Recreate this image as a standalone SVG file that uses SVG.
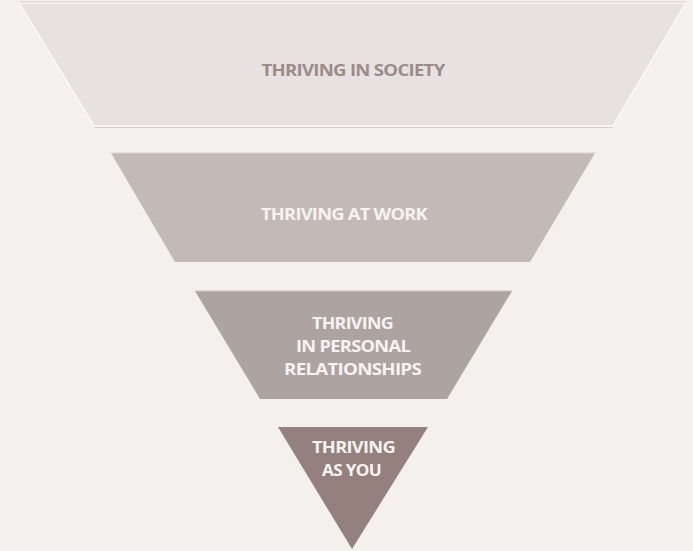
<svg xmlns="http://www.w3.org/2000/svg" width="693" height="551" viewBox="0 0 693 551">
  <style>
    .lbl { font-family: "Open Sans", "Noto Sans", "Liberation Sans", sans-serif; font-weight: 700; font-size: 15.5px; letter-spacing: -0.6px; text-anchor: middle; }
    .dark { fill: #9c8b88; }
    .light { fill: #f7f3f1; }
  </style>
  <rect width="693" height="551" fill="#f3f0ed"/>

  <!-- Tier 1: society -->
  <g id="tier-society">
    <polygon points="19,3 686,3 613,126 94,126" fill="#e7e2e1" stroke="#fbf9f8" stroke-width="1.6"/>
    <line x1="19" y1="2" x2="686" y2="2" stroke="#d5cecb" stroke-width="1"/>
    <line x1="94" y1="127.5" x2="613" y2="127.5" stroke="#d5cecb" stroke-width="1"/>
    <text class="lbl dark" x="353" y="75.5" textLength="183" lengthAdjust="spacingAndGlyphs">THRIVING IN SOCIETY</text>
  </g>

  <!-- Tier 2: work -->
  <g id="tier-work">
    <polygon points="111,153 595,153 530,262 175,262" fill="#c3bab8"/>
    <line x1="111" y1="153" x2="595" y2="153" stroke="#d8d1ce" stroke-width="1.2"/>
    <text class="lbl light" x="344" y="219.5" textLength="166" lengthAdjust="spacingAndGlyphs">THRIVING AT WORK</text>
  </g>

  <!-- Tier 3: personal relationships -->
  <g id="tier-relationships">
    <polygon points="195,291 512,291 447,399 260,399" fill="#ada3a1"/>
    <line x1="195" y1="291" x2="512" y2="291" stroke="#cbc3c0" stroke-width="1"/>
    <text class="lbl light" x="352.5" y="329" textLength="81" lengthAdjust="spacingAndGlyphs">THRIVING</text>
    <text class="lbl light" x="353" y="352" textLength="114" lengthAdjust="spacingAndGlyphs">IN PERSONAL</text>
    <text class="lbl light" x="352.5" y="375" textLength="137" lengthAdjust="spacingAndGlyphs">RELATIONSHIPS</text>
  </g>

  <!-- Tier 4: self -->
  <g id="tier-you">
    <polygon points="278,427 428,427 352,549" fill="#94807c"/>
    <text class="lbl light" x="353.5" y="453" textLength="83" lengthAdjust="spacingAndGlyphs">THRIVING</text>
    <text class="lbl light" x="351.5" y="476" textLength="59" lengthAdjust="spacingAndGlyphs">AS YOU</text>
  </g>

  <g id="connectors"/>
</svg>
